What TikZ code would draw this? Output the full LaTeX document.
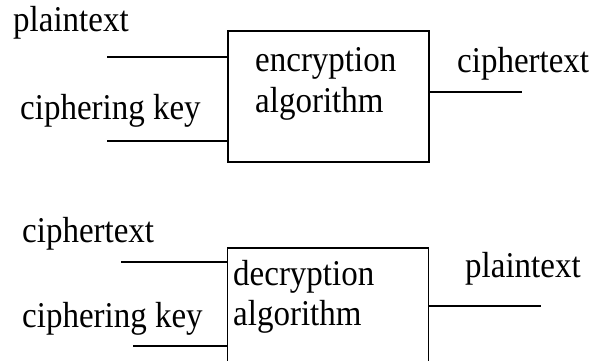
\documentclass[tikz,border=0pt]{standalone}
\usepackage{graphicx}
\usepackage{fontspec}
\setmainfont{Liberation Serif}
\newcommand\tallword[1]{\scalebox{1}[1.1]{#1}}
\begin{document}
\begin{tikzpicture}[x=1pt,y=-1pt,
  blk/.style={draw, line width=1.5pt, minimum width=201pt, minimum height=131pt, inner sep=0pt},
  wire/.style={line width=1.5pt},
  lbl/.style={anchor=base west, inner sep=0pt, font=\fontsize{33}{36}\selectfont}]
\useasboundingbox (0,0) rectangle (592,361);
\clip (0,0) rectangle (592,361);

% encryption stage
\node[blk] (enc) at (328.5,96.5) {};
\node[lbl] (encA) at (255,72) {\tallword{encryption}};
\node[lbl] (encB) at (255,112) {\tallword{algorithm}};
\node[lbl] (pIn) at (13,31.5) {\tallword{plaintext}};
\node[lbl] (kIn) at (20,119) {\tallword{ciphering key}};
\node[lbl] (cOut) at (457,73) {\tallword{ciphertext}};
\coordinate (e1) at (107,57);
\coordinate (e2) at (107,141);
\coordinate (e3) at (522,92);
\draw[wire] (e1) -- (e1 -| enc.west);
\draw[wire] (e2) -- (e2 -| enc.west);
\draw[wire] (e3 -| enc.east) -- (e3);

% decryption stage
\node[blk] (dec) at (328,313.5) {};
\node[lbl] (decA) at (233,285) {\tallword{decryption}};
\node[lbl] (decB) at (233,325) {\tallword{algorithm}};
\node[lbl] (cIn) at (22,242) {\tallword{ciphertext}};
\node[lbl] (k2In) at (22,327) {\tallword{ciphering key}};
\node[lbl] (pOut) at (465,277) {\tallword{plaintext}};
\coordinate (d1) at (121,262);
\coordinate (d2) at (133,346);
\coordinate (d3) at (541,306);
\draw[wire] (d1) -- (d1 -| dec.west);
\draw[wire] (d2) -- (d2 -| dec.west);
\draw[wire] (d3 -| dec.east) -- (d3);
\end{tikzpicture}
\end{document}
